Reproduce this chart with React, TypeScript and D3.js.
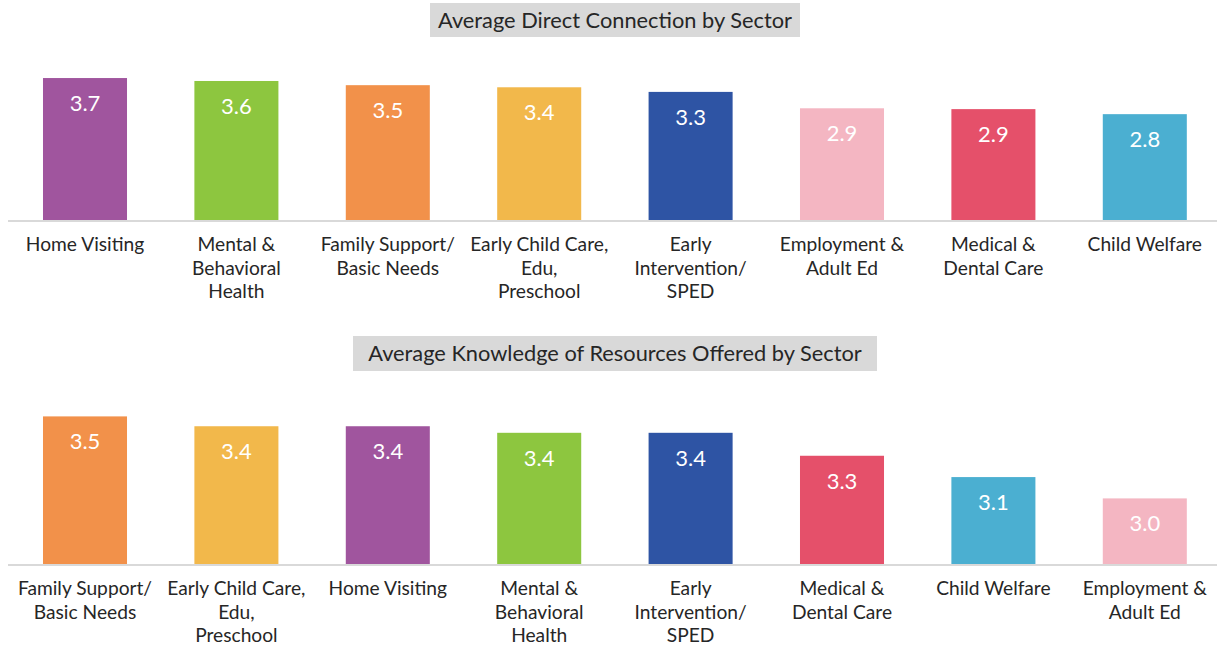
import React from "react";
import * as d3 from "d3";

const topTitle = "Average Direct Connection by Sector";
const topCategories = [
  "Home Visiting",
  "Mental & Behavioral Health",
  "Family Support/ Basic Needs",
  "Early Child Care, Edu, Preschool",
  "Early Intervention/ SPED",
  "Employment & Adult Ed",
  "Medical & Dental Care",
  "Child Welfare",
];
const topValues = [3.66, 3.59, 3.49, 3.44, 3.33, 2.94, 2.92, 2.8];

const bottomTitle = "Average Knowledge of Resources Offered by Sector";
const bottomCategories = [
  "Family Support/ Basic Needs",
  "Early Child Care, Edu, Preschool",
  "Home Visiting",
  "Mental & Behavioral Health",
  "Early Intervention/ SPED",
  "Medical & Dental Care",
  "Child Welfare",
  "Employment & Adult Ed",
];
const bottomValues = [3.5, 3.44, 3.44, 3.4, 3.4, 3.26, 3.13, 3.0];

const labelLines: Record<string, string[]> = {
  "Home Visiting": ["Home Visiting"],
  "Mental & Behavioral Health": ["Mental &", "Behavioral", "Health"],
  "Family Support/ Basic Needs": ["Family Support/", "Basic Needs"],
  "Early Child Care, Edu, Preschool": ["Early Child Care,", "Edu,", "Preschool"],
  "Early Intervention/ SPED": ["Early", "Intervention/", "SPED"],
  "Employment & Adult Ed": ["Employment &", "Adult Ed"],
  "Medical & Dental Care": ["Medical &", "Dental Care"],
  "Child Welfare": ["Child Welfare"],
};

const sectorColors: Record<string, string> = {
  "Home Visiting": "#a0559e",
  "Mental & Behavioral Health": "#8dc63f",
  "Family Support/ Basic Needs": "#f2914a",
  "Early Child Care, Edu, Preschool": "#f2b84b",
  "Early Intervention/ SPED": "#2e54a4",
  "Employment & Adult Ed": "#f4b6c2",
  "Medical & Dental Care": "#e5506a",
  "Child Welfare": "#4bafd1",
};

const FONT = "Lato, 'Open Sans', sans-serif";
const fmt = d3.format(".1f");

type PanelProps = {
  title: string;
  categories: string[];
  values: number[];
  baseline: number;
  domain: [number, number];
  pxPerUnit: number;
  titleBox: { x: number; y: number; w: number; h: number };
};

function Panel({ title, categories, values, baseline, domain, pxPerUnit, titleBox }: PanelProps) {
  const x = d3
    .scaleBand<string>()
    .domain(categories)
    .range([9.3, 1220.5])
    .paddingInner(0.445)
    .paddingOuter(0.2225);
  const y = d3
    .scaleLinear()
    .domain(domain)
    .range([baseline, baseline - (domain[1] - domain[0]) * pxPerUnit]);

  return (
    <g>
      <rect x={titleBox.x} y={titleBox.y} width={titleBox.w} height={titleBox.h} fill="#d9d9d9" />
      <text
        x={titleBox.x + titleBox.w / 2}
        y={titleBox.y + titleBox.h / 2 + 7.5}
        textAnchor="middle"
        fontFamily={FONT}
        fontSize={21.8}
        fill="#262626"
      >
        {title}
      </text>
      {categories.map((c, i) => {
        const v = values[i];
        const bx = x(c) as number;
        const top = y(v);
        return (
          <g key={c}>
            <rect x={bx} y={top} width={x.bandwidth()} height={baseline - top} fill={sectorColors[c]} />
            <text
              x={bx + x.bandwidth() / 2}
              y={top + 33}
              textAnchor="middle"
              fontFamily={FONT}
              fontSize={22}
              fill="#ffffff"
            >
              {fmt(v)}
            </text>
            {labelLines[c].map((line, j) => (
              <text
                key={j}
                x={bx + x.bandwidth() / 2}
                y={baseline + 31 + j * 23.5}
                textAnchor="middle"
                fontFamily={FONT}
                fontSize={19.2}
                fill="#262626"
              >
                {line}
              </text>
            ))}
          </g>
        );
      })}
      <line x1={8} x2={1217} y1={baseline + 1} y2={baseline + 1} stroke="#d9d9d9" strokeWidth={2} />
    </g>
  );
}

export default function App() {
  return (
    <svg
      width={1217}
      height={645}
      style={{ position: "absolute", left: 0, top: 0, background: "#ffffff" }}
    >
      <rect width={1217} height={645} fill="#ffffff" />
      <Panel
        title={topTitle}
        categories={topCategories}
        values={topValues}
        baseline={220}
        domain={[0.28, 4.0]}
        pxPerUnit={42}
        titleBox={{ x: 430, y: 3, w: 370, h: 34 }}
      />
      <Panel
        title={bottomTitle}
        categories={bottomCategories}
        values={bottomValues}
        baseline={564}
        domain={[2.6, 3.6]}
        pxPerUnit={164}
        titleBox={{ x: 353, y: 336, w: 524, h: 35 }}
      />
    </svg>
  );
}
